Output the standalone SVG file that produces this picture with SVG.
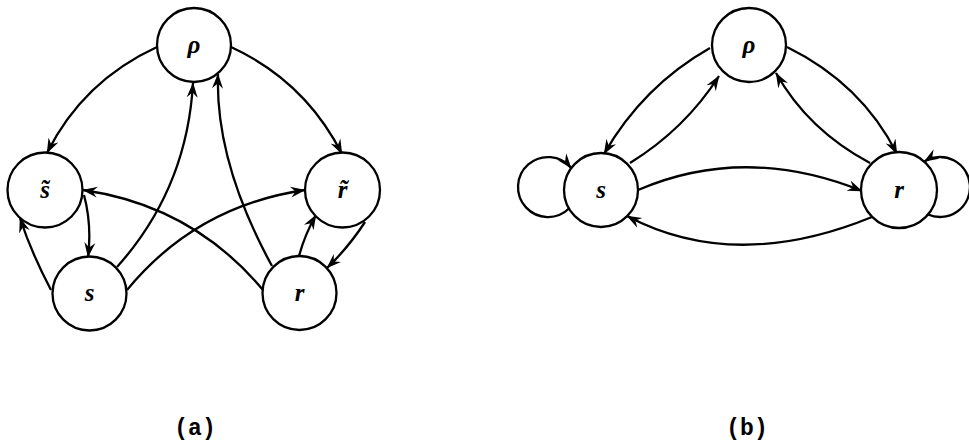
<svg xmlns="http://www.w3.org/2000/svg" width="969" height="442" viewBox="0 0 969 442">
<style>
.node circle{fill:#fff;stroke:#000;stroke-width:2.3}
.lbl{font-family:"Liberation Serif",serif;font-style:italic;font-weight:bold;font-size:25px;text-anchor:middle;fill:#000}
.edge{fill:none;stroke:#000;stroke-width:2.3;marker-end:url(#ah)}
.cap{font-family:"Liberation Mono",monospace;font-weight:bold;font-size:23px;text-anchor:middle;fill:#000}
</style>
<defs>
<marker id="ah" markerUnits="userSpaceOnUse" viewBox="0 0 15 12" markerWidth="15" markerHeight="12" refX="14.5" refY="6" orient="auto">
<path d="M0,0.5 L15,6 L0,11.5 L5,6 Z" fill="#000"/>
</marker>
</defs>
<rect width="969" height="442" fill="#fff"/>
<g id="connectors">
<path class="edge" d="M157,47 Q83,81 47,153"/>
<path class="edge" d="M231,47 Q305,81 342,154"/>
<path class="edge" d="M117,267 Q187,189 193,83"/>
<path class="edge" d="M272,266 Q215,162 218,74"/>
<path class="edge" d="M127,290 Q196,206 305,190"/>
<path class="edge" d="M263,290 Q193,206 83,190"/>
<path class="edge" d="M84,195 Q92,225 88,257"/>
<path class="edge" d="M51,290 Q31,252 20,218"/>
<path class="edge" d="M299,256 Q305,234 316,215"/>
<path class="edge" d="M365,222 Q348,248 327,268"/>
<path class="edge" d="M710,48 Q643,86 604,154"/>
<path class="edge" d="M630,163 Q685,129 719,76"/>
<path class="edge" d="M787,47 Q862,84 897,154"/>
<path class="edge" d="M870,163 Q808,130 776,73"/>
<path class="edge" d="M638,190 Q745,144 862,191"/>
<path class="edge" d="M872,217 Q735,273 627,216"/>
<path class="edge" d="M569,208.5 A30,30 0 1 1 571.2,168"/>
<path class="edge" d="M928,214.5 A30,30 0 1 0 924.2,161.5"/>
</g>
<g id="n-a-rho" class="node"><circle cx="194" cy="45" r="37"/><text class="lbl" x="194" y="53">ρ</text></g>
<g id="n-a-stilde" class="node"><circle cx="45" cy="190" r="37.5"/><text class="lbl" x="45" y="198">s̃</text></g>
<g id="n-a-rtilde" class="node"><circle cx="342.5" cy="190" r="37.5"/><text class="lbl" x="342.5" y="198">r̃</text></g>
<g id="n-a-s" class="node"><circle cx="89.5" cy="293.5" r="37"/><text class="lbl" x="89.5" y="301">s</text></g>
<g id="n-a-r" class="node"><circle cx="299.5" cy="293" r="37"/><text class="lbl" x="299.5" y="301">r</text></g>
<g id="n-b-rho" class="node"><circle cx="749" cy="45" r="37"/><text class="lbl" x="749" y="53">ρ</text></g>
<g id="n-b-s" class="node"><circle cx="601" cy="190" r="37"/><text class="lbl" x="601" y="198">s</text></g>
<g id="n-b-r" class="node"><circle cx="899" cy="190" r="38"/><text class="lbl" x="899" y="198">r</text></g>
<text class="cap" x="195" y="435">(a)</text>
<text class="cap" x="747" y="435">(b)</text>
</svg>
